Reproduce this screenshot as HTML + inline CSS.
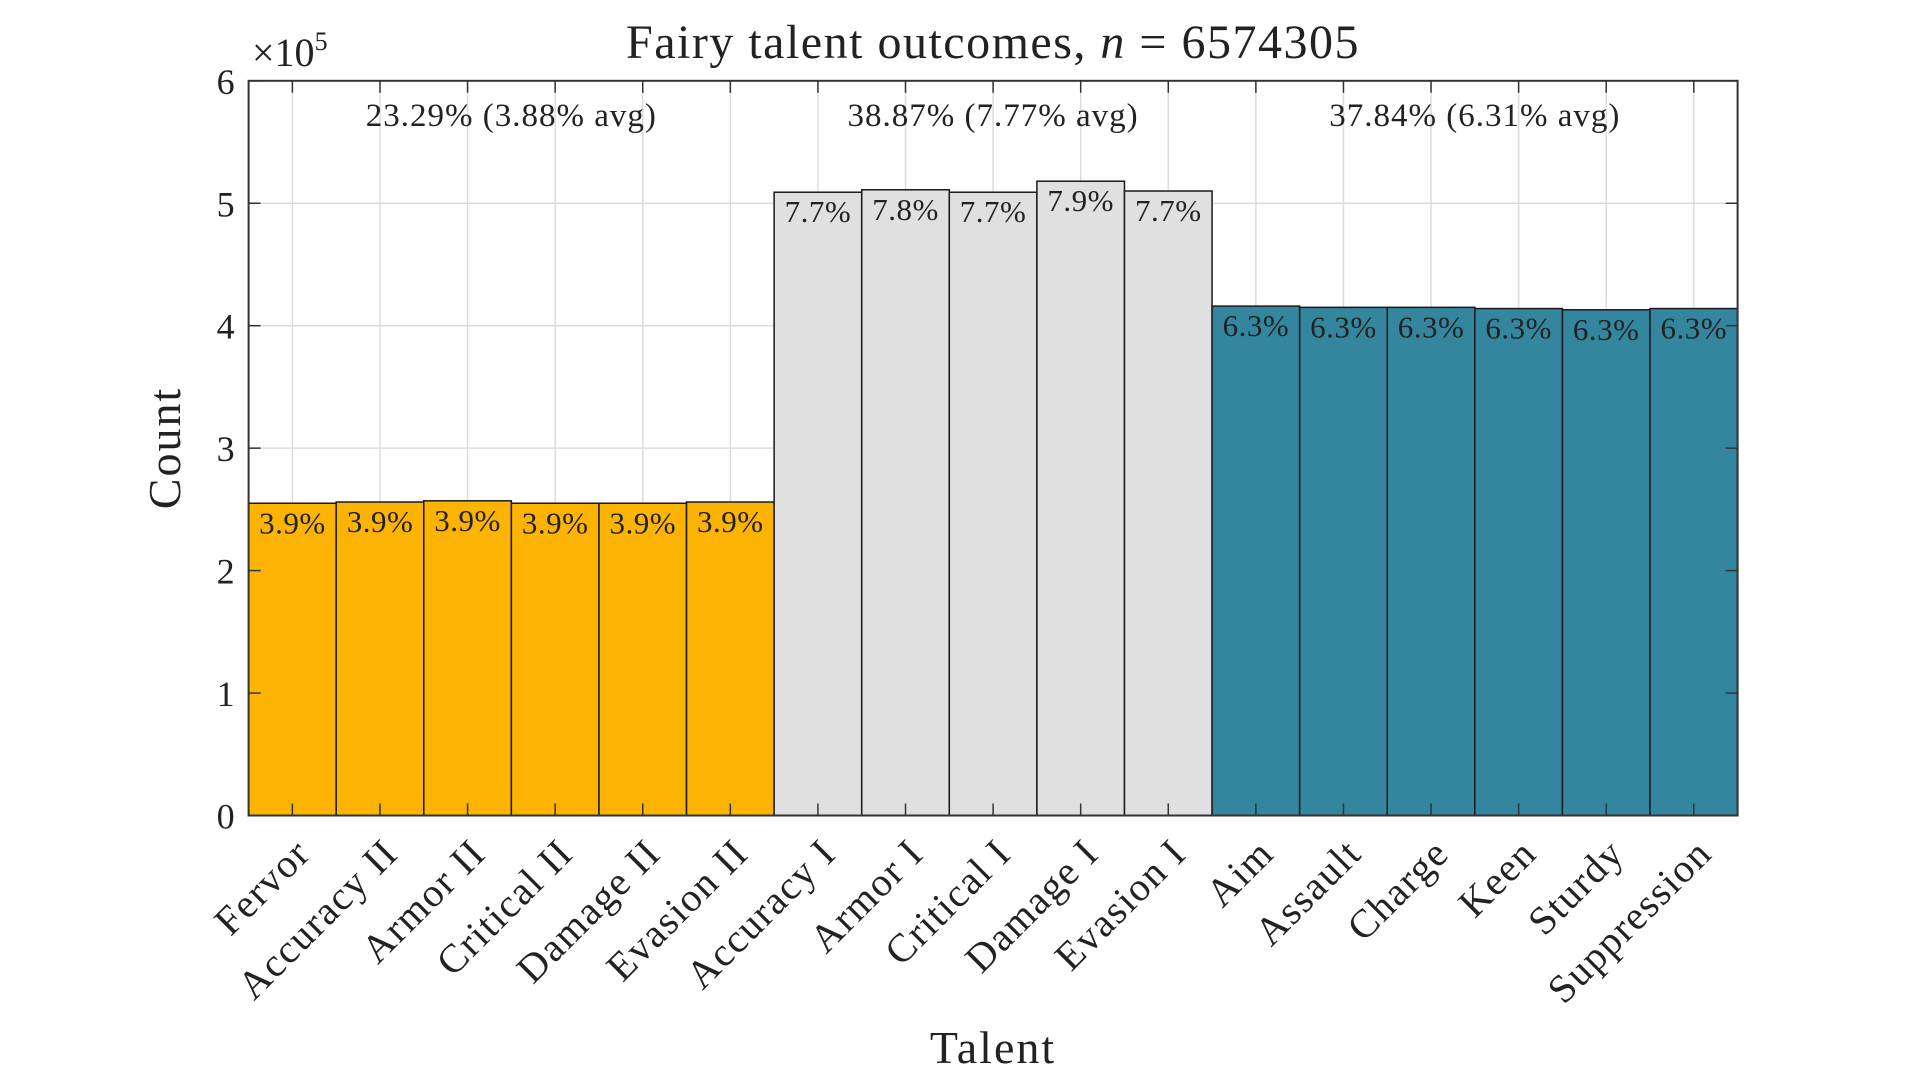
<!DOCTYPE html>
<html><head><meta charset="utf-8"><style>
html,body{margin:0;padding:0;background:#fff;}
svg text{font-family:"Liberation Serif",serif;fill:#222;}
</style></head><body>
<svg id="chart" width="1920" height="1080" xmlns="http://www.w3.org/2000/svg">
<g id="grid"></g>
<g id="bars"></g>
<g id="axes"></g>
<text x="993" y="58" font-size="48" letter-spacing="1.5" text-anchor="middle">Fairy talent outcomes, <tspan font-style="italic">n</tspan> = 6574305</text>
<text x="252" y="66" font-size="40">×10<tspan font-size="26" dy="-16">5</tspan></text>
<text font-size="46" letter-spacing="2" text-anchor="middle" transform="translate(180,448) rotate(-90)">Count</text>
<text x="993" y="1063" font-size="46" letter-spacing="2" text-anchor="middle">Talent</text>
</svg>
<script>
const categories=["Fervor","Accuracy II","Armor II","Critical II","Damage II","Evasion II","Accuracy I","Armor I","Critical I","Damage I","Evasion I","Aim","Assault","Charge","Keen","Sturdy","Suppression"];
const counts=[255000,256000,257000,255000,255000,256000,509000,511000,509000,518000,510000,416000,415000,415000,414000,413000,414000];
const pctLabels=["3.9%","3.9%","3.9%","3.9%","3.9%","3.9%","7.7%","7.8%","7.7%","7.9%","7.7%","6.3%","6.3%","6.3%","6.3%","6.3%","6.3%"];
const groupOf=[0,0,0,0,0,0,1,1,1,1,1,2,2,2,2,2,2];
const groupLabels=["23.29% (3.88% avg)","38.87% (7.77% avg)","37.84% (6.31% avg)"];
const yTicks=[0,1,2,3,4,5,6];
const NS="http://www.w3.org/2000/svg";
const L=248.6,R=1737.6,T=80.8,B=815.5,YMAX=600000;
const colors=["#FDB302","#E0E0E0","#33869E"];
const n=categories.length;const bw=(R-L)/n;
function xc(i){return L+bw*(i+0.5);}
function y(v){return B-(v/YMAX)*(B-T);}
function mk(tag,attrs,parent){const e=document.createElementNS(NS,tag);for(const k in attrs)e.setAttribute(k,attrs[k]);parent.appendChild(e);return e;}
const grid=document.getElementById('grid'),bars=document.getElementById('bars'),axes=document.getElementById('axes'),svg=document.getElementById('chart');
mk('rect',{x:L,y:T,width:R-L,height:B-T,fill:'#fff'},grid);
yTicks.forEach(t=>{const yy=y(t*100000);
 const g=mk('line',{x1:L,x2:R,y1:yy,y2:yy,stroke:'#dcdcdc','stroke-width':1.5},grid);
 
 
 const tl=mk('text',{x:L-14,y:yy+13,'font-size':36,'text-anchor':'end'},axes);tl.textContent=t;
 
 
 mk('line',{x1:L,x2:L+12,y1:yy,y2:yy,stroke:'#333','stroke-width':1.5},axes);
 mk('line',{x1:R,x2:R-12,y1:yy,y2:yy,stroke:'#333','stroke-width':1.5},axes);
});
categories.forEach((c,i)=>{const x=xc(i);
 const g=mk('line',{x1:x,x2:x,y1:T,y2:B,stroke:'#dcdcdc','stroke-width':1.5},grid);
 
 
 const b=mk('rect',{x:L+bw*i,y:y(counts[i]),width:bw,height:B-y(counts[i]),fill:colors[groupOf[i]],stroke:'#1a1a1a','stroke-width':1.5},bars);
 
 
 const pl=mk('text',{x:x,y:y(counts[i])+30,'font-size':31,'letter-spacing':0.5,'text-anchor':'middle'},bars);pl.textContent=pctLabels[i];
 
 
 mk('line',{x1:x,x2:x,y1:B,y2:B-12,stroke:'#333','stroke-width':1.5},axes);
 mk('line',{x1:x,x2:x,y1:T,y2:T+12,stroke:'#333','stroke-width':1.5},axes);
 const tl=mk('text',{'font-size':40,'letter-spacing':1.5,'text-anchor':'end',transform:'translate('+(x+20)+','+(B+40)+') rotate(-45)'},axes);tl.textContent=c;
 
 
});
groupLabels.forEach((g,k)=>{const idx=groupOf.map((v,i)=>v===k?i:-1).filter(i=>i>=0);
 const cx=(xc(idx[0])+xc(idx[idx.length-1]))/2;
 const t=mk('text',{x:cx,y:126,'font-size':33,'letter-spacing':1,'text-anchor':'middle'},axes);t.textContent=g;
 
 
});
mk('rect',{x:L,y:T,width:R-L,height:B-T,fill:'none',stroke:'#333','stroke-width':2},axes);
</script>
</body></html>
